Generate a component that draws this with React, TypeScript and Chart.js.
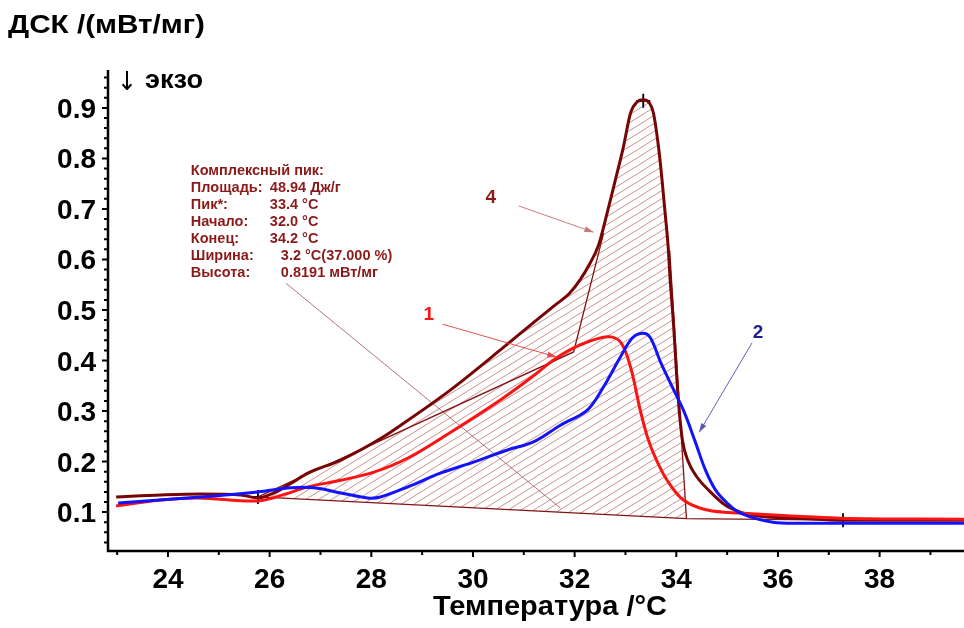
import React, { useEffect, useRef } from 'react';
import { Chart, registerables } from 'chart.js';
Chart.register(...registerables);

// ---------------- data ----------------
const xTicks = [24, 26, 28, 30, 32, 34, 36, 38];
const yTicks = [0.1, 0.2, 0.3, 0.4, 0.5, 0.6, 0.7, 0.8, 0.9];

const c1T = [22.98, 23.86, 24.59, 25.77, 26.32, 26.75, 27.4, 28.05, 28.72, 29.56, 30.54, 31.13, 31.64, 32.11, 32.64, 32.9, 33.1, 33.29, 33.45, 33.61, 33.82, 34.14, 34.61, 35.26, 37.22, 39.66];
const c1V = [0.112, 0.124, 0.128, 0.122, 0.136, 0.15, 0.163, 0.179, 0.207, 0.258, 0.322, 0.365, 0.405, 0.431, 0.447, 0.437, 0.387, 0.302, 0.243, 0.203, 0.163, 0.124, 0.104, 0.098, 0.088, 0.086];

const c2T = [23.02, 24.65, 25.77, 26.42, 26.87, 27.4, 27.93, 28.18, 28.72, 29.36, 30.01, 30.68, 31.19, 31.72, 32.25, 32.57, 32.9, 33.14, 33.35, 33.49, 33.69, 33.92, 34.16, 34.37, 34.57, 34.77, 35.0, 35.26, 35.9, 36.57, 39.66];
const c2V = [0.118, 0.13, 0.14, 0.148, 0.148, 0.138, 0.128, 0.13, 0.15, 0.177, 0.199, 0.223, 0.239, 0.272, 0.302, 0.348, 0.407, 0.445, 0.454, 0.445, 0.397, 0.348, 0.297, 0.24, 0.184, 0.144, 0.118, 0.098, 0.08, 0.078, 0.078];

const c4T = [22.98, 23.86, 24.65, 25.43, 25.77, 26.08, 26.42, 26.75, 27.4, 28.24, 28.58, 29.56, 30.54, 31.13, 31.62, 31.9, 32.11, 32.3, 32.47, 32.64, 32.8, 32.96, 33.1, 33.23, 33.35, 33.47, 33.55, 33.65, 33.72, 33.78, 33.84, 33.88, 33.94, 34.04, 34.12, 34.24, 34.41, 34.67, 34.96, 35.26, 35.65, 36.44, 37.28, 39.66];
const c4V = [0.13, 0.134, 0.136, 0.134, 0.128, 0.138, 0.157, 0.177, 0.203, 0.249, 0.272, 0.342, 0.421, 0.47, 0.51, 0.533, 0.56, 0.592, 0.628, 0.692, 0.757, 0.823, 0.89, 0.912, 0.916, 0.91, 0.89, 0.823, 0.757, 0.692, 0.625, 0.559, 0.48, 0.322, 0.243, 0.199, 0.169, 0.14, 0.114, 0.1, 0.092, 0.088, 0.084, 0.084];

const baseT = [25.77, 34.2, 37.28];
const baseV = [0.13, 0.087, 0.084];
const endTanT = [34.2, 33.87];
const endTanV = [0.087, 0.618];
const onTanT = [25.77, 31.98, 32.57];
const onTanV = [0.13, 0.417, 0.652];
const leaderT = [26.32, 31.72];
const leaderV = [0.553, 0.108];
const markT = [25.77, 33.35, 37.28];
const markV = [0.13, 0.914, 0.084];

const infoLabels = ['Комплексный пик:', 'Площадь:', 'Пик*:', 'Начало:', 'Конец:', 'Ширина:', 'Высота:'];
const infoValues = ['', '48.94 Дж/г', '33.4 °C', '32.0 °C', '34.2 °C', '3.2 °C(37.000 %)', '0.8191 мВт/мг'];

const curveLabels = ['1', '2', '4'];
const labelT = [29.13, 35.61, 30.35];
const labelV = [0.494, 0.458, 0.726];
const arrowFromT = [29.4, 35.49, 30.9];
const arrowFromV = [0.472, 0.435, 0.706];
const arrowToT = [31.64, 34.45, 32.37];
const arrowToV = [0.407, 0.258, 0.654];

const X_MIN = 22.82, X_MAX = 39.66, Y_MIN = 0.025, Y_MAX = 0.975;

const pts = (t: number[], v: number[]) => t.map((x, i) => ({ x, y: v[i] }));

const FONT = '"Liberation Sans", Arial, sans-serif';

function drawText(ctx: CanvasRenderingContext2D, s: string, x: number, y: number, font: string, color: string, align: 'left' | 'center' | 'right' = 'left', width?: number) {
  ctx.save();
  ctx.font = font;
  ctx.fillStyle = color;
  ctx.textBaseline = 'alphabetic';
  ctx.textAlign = 'left';
  const w = ctx.measureText(s).width;
  const sx = width ? width / w : 1;
  const tw = w * sx;
  const left = align === 'center' ? x - tw / 2 : align === 'right' ? x - tw : x;
  ctx.translate(left, y);
  ctx.scale(sx, 1);
  ctx.fillText(s, 0, 0);
  ctx.restore();
}

const HATCH_IDX = 2;

const hatchPlugin = {
  id: 'hatch',
  beforeDatasetsDraw(chart: any) {
    const { ctx, chartArea: a, scales } = chart;
    const xs = scales.x, ys = scales.y;
    const meta = chart.getDatasetMeta(HATCH_IDX);
    const line = meta.dataset;
    if (!line) return;
    line.updateControlPoints(a, 'x');
    const P = meta.data;
    ctx.save();
    ctx.beginPath();
    line.path(ctx);
    ctx.lineTo(P[P.length - 1].x, a.bottom);
    ctx.lineTo(P[0].x, a.bottom);
    ctx.closePath();
    ctx.clip();
    const p1x = xs.getPixelForValue(baseT[0]), p1y = ys.getPixelForValue(baseV[0]);
    const p2x = xs.getPixelForValue(baseT[1]), p2y = ys.getPixelForValue(baseV[1]);
    const t0x = xs.getPixelForValue(endTanT[0]), t0y = ys.getPixelForValue(endTanV[0]);
    const t1x = xs.getPixelForValue(endTanT[1]), t1y = ys.getPixelForValue(endTanV[1]);
    const k = (t1x - t0x) / (t1y - t0y);
    const topX = t0x + (a.top - t0y) * k;
    ctx.beginPath();
    ctx.moveTo(p1x, p1y);
    ctx.lineTo(p2x, p2y);
    ctx.lineTo(topX, a.top);
    ctx.lineTo(p1x, a.top);
    ctx.closePath();
    ctx.clip();
    ctx.strokeStyle = 'rgba(170,70,70,0.6)';
    ctx.lineWidth = 1;
    const slope = 0.62;
    const W = a.right - a.left;
    ctx.beginPath();
    for (let off = 0; off < a.bottom - a.top + slope * W + 20; off += 8) {
      ctx.moveTo(a.left, a.top + off);
      ctx.lineTo(a.right, a.top + off - slope * W);
    }
    ctx.stroke();
    ctx.restore();
  },
};

const decorPlugin = {
  id: 'decor',
  afterDraw(chart: any) {
    const { ctx, chartArea: a, scales } = chart;
    const xs = scales.x, ys = scales.y;
    const X = (t: number) => xs.getPixelForValue(t);
    const Y = (v: number) => ys.getPixelForValue(v);
    ctx.save();
    ctx.strokeStyle = '#000';
    ctx.lineWidth = 2.5;
    ctx.beginPath();
    ctx.moveTo(a.left, a.top);
    ctx.lineTo(a.left, a.bottom + 1);
    ctx.lineTo(a.right + 2, a.bottom + 1);
    ctx.stroke();
    ctx.lineWidth = 2;
    ctx.beginPath();
    for (let i = 0; i <= 48; i++) {
      const v = 0.04 + i * 0.02;
      if (v > Y_MAX) break;
      const y = Y(v);
      const major = Math.abs(v * 10 - Math.round(v * 10)) < 1e-6;
      ctx.moveTo(a.left, y);
      ctx.lineTo(a.left - (major ? 6 : 4), y);
    }
    for (let t = 23; t <= 39; t++) {
      const x = X(t);
      ctx.moveTo(x, a.bottom + 1);
      ctx.lineTo(x, a.bottom + (t % 2 === 0 ? 7 : 5));
    }
    ctx.stroke();
    const tf = `bold 28px ${FONT}`;
    yTicks.forEach((v) => drawText(ctx, v.toFixed(1), a.left - 12, Y(v) + 10, tf, '#000', 'right'));
    xTicks.forEach((t) => drawText(ctx, String(t), X(t), 588, tf, '#000', 'center'));
    drawText(ctx, 'ДСК /(мВт/мг)', 8, 33, `bold 26px ${FONT}`, '#000', 'left', 197);
    drawText(ctx, '↓', 117, 90, `26px "DejaVu Sans", ${FONT}`, '#000', 'left', 20);
    drawText(ctx, 'экзо', 145, 88, `bold 25px ${FONT}`, '#000', 'left', 58);
    drawText(ctx, 'Температура /°C', 550, 615, `bold 28px ${FONT}`, '#000', 'center', 234);
    const ax = X(24.45), ay = Y(0.777) + 5;
    infoLabels.forEach((s, i) => {
      const y = ay + i * 17;
      drawText(ctx, s, ax, y, `bold 14.5px ${FONT}`, 'rgb(140,25,25)', 'left');
      if (infoValues[i]) drawText(ctx, infoValues[i], i >= 5 ? ax + 90 : ax + 79, y, `bold 14.5px ${FONT}`, 'rgb(140,25,25)', 'left');
    });
    const arrowCols = ['rgba(230,60,60,0.9)', 'rgba(80,80,170,0.9)', 'rgba(200,110,110,0.9)'];
    const labCols = ['rgb(255,20,20)', 'rgb(30,30,140)', 'rgb(140,25,25)'];
    curveLabels.forEach((s, i) => {
      const x0 = X(arrowFromT[i]), y0 = Y(arrowFromV[i]);
      const x1 = X(arrowToT[i]), y1 = Y(arrowToV[i]);
      ctx.strokeStyle = arrowCols[i];
      ctx.fillStyle = arrowCols[i];
      ctx.lineWidth = 1;
      ctx.beginPath();
      ctx.moveTo(x0, y0);
      ctx.lineTo(x1, y1);
      ctx.stroke();
      const ang = Math.atan2(y1 - y0, x1 - x0);
      const L = 9, Wd = 3;
      ctx.beginPath();
      ctx.moveTo(x1, y1);
      ctx.lineTo(x1 - L * Math.cos(ang) + Wd * Math.sin(ang), y1 - L * Math.sin(ang) - Wd * Math.cos(ang));
      ctx.lineTo(x1 - L * Math.cos(ang) - Wd * Math.sin(ang), y1 - L * Math.sin(ang) + Wd * Math.cos(ang));
      ctx.closePath();
      ctx.fill();
      drawText(ctx, s, X(labelT[i]), Y(labelV[i]) + 7, `bold 19px ${FONT}`, labCols[i], 'center');
    });
    ctx.restore();
  },
};

export default function App() {
  const ref = useRef<HTMLCanvasElement | null>(null);
  useEffect(() => {
    if (!ref.current) return;
    const thin = { pointRadius: 0, borderWidth: 1.3, fill: false, tension: 0 };
    const chart = new Chart(ref.current, {
      type: 'line',
      data: {
        datasets: [
          { label: '2', data: pts(c2T, c2V), borderColor: 'rgb(20,20,250)', borderWidth: 3, pointRadius: 0, tension: 0.35, fill: false },
          { label: '1', data: pts(c1T, c1V), borderColor: 'rgb(250,20,20)', borderWidth: 3, pointRadius: 0, tension: 0.35, fill: false },
          { label: '4', data: pts(c4T, c4V), borderColor: 'rgb(120,5,5)', borderWidth: 3, pointRadius: 0, cubicInterpolationMode: 'monotone', fill: false },
          { label: 'base', data: pts(baseT, baseV), borderColor: 'rgb(130,20,20)', ...thin },
          { label: 'endTan', data: pts(endTanT, endTanV), borderColor: 'rgb(130,20,20)', ...thin },
          { label: 'onTan', data: pts(onTanT, onTanV), borderColor: 'rgb(130,20,20)', ...thin },
          { label: 'leader', data: pts(leaderT, leaderV), borderColor: 'rgba(150,60,60,0.7)', ...thin, borderWidth: 1 },
          { label: 'marks', data: pts(markT, markV), showLine: false, pointStyle: 'cross', pointRadius: 7, pointBorderWidth: 1.8, pointBorderColor: '#000', borderColor: '#000' },
        ],
      } as any,
      options: {
        animation: false,
        responsive: false,
        events: [],
        layout: { autoPadding: false, padding: { left: 0, top: 70, right: 0, bottom: 0 } },
        plugins: { legend: { display: false }, tooltip: { enabled: false }, title: { display: false } },
        scales: {
          x: {
            type: 'linear', min: X_MIN, max: X_MAX,
            ticks: { display: false }, grid: { display: false }, border: { display: false },
            afterBuildTicks: (s: any) => { s.ticks = xTicks.map((v) => ({ value: v })); },
            afterFit: (s: any) => { s.height = 78; },
          },
          y: {
            type: 'linear', min: Y_MIN, max: Y_MAX,
            ticks: { display: false }, grid: { display: false }, border: { display: false },
            afterBuildTicks: (s: any) => { s.ticks = yTicks.map((v) => ({ value: v })); },
            afterFit: (s: any) => { s.width = 108; },
          },
        },
      } as any,
      plugins: [hatchPlugin, decorPlugin],
    });
    return () => chart.destroy();
  }, []);
  return (
    <div style={{ position: 'fixed', left: 0, top: 0, width: 964, height: 628, background: '#fff' }}>
      <canvas ref={ref} width={964} height={628} style={{ display: 'block', width: 964, height: 628 }} />
    </div>
  );
}
